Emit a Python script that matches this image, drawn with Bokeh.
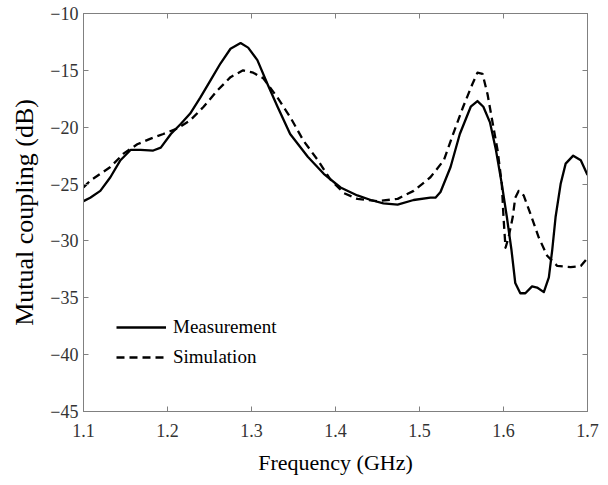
from bokeh.plotting import figure
from bokeh.models import LinearAxis, FixedTicker, Legend, LegendItem, Range1d, CustomJSTickFormatter
from bokeh.embed import file_html
from bokeh.resources import INLINE

# ---- data ----
freq_meas = [1.100, 1.108, 1.120, 1.132, 1.144, 1.156, 1.168, 1.183, 1.192, 1.204,
             1.216, 1.227, 1.239, 1.251, 1.263, 1.275, 1.287, 1.296, 1.307, 1.319,
             1.331, 1.346, 1.367, 1.386, 1.406, 1.426, 1.442, 1.457, 1.474, 1.493,
             1.513, 1.519, 1.525, 1.537, 1.548, 1.561, 1.569, 1.576, 1.584, 1.591,
             1.598, 1.604, 1.6095, 1.614, 1.620, 1.626, 1.634, 1.640, 1.648, 1.654,
             1.658, 1.662, 1.668, 1.674, 1.683, 1.692, 1.700]
meas_db = [-26.5, -26.2, -25.6, -24.4, -22.9, -22.0, -22.0, -22.05, -21.8, -20.6,
           -19.7, -18.8, -17.4, -15.9, -14.4, -13.1, -12.6, -13.0, -14.1, -16.2,
           -18.2, -20.6, -22.6, -24.1, -25.3, -26.0, -26.4, -26.7, -26.8, -26.4,
           -26.2, -26.2, -25.7, -23.5, -20.6, -18.2, -17.7, -18.2, -19.6, -22.0,
           -25.0, -27.9, -30.8, -33.7, -34.6, -34.6, -34.0, -34.1, -34.5, -33.2,
           -30.8, -27.9, -25.0, -23.2, -22.5, -22.9, -24.2]

freq_sim = [1.100, 1.108, 1.120, 1.132, 1.148, 1.164, 1.180, 1.195, 1.212, 1.227,
            1.243, 1.259, 1.275, 1.290, 1.302, 1.314, 1.331, 1.346, 1.362, 1.379,
            1.394, 1.410, 1.426, 1.450, 1.474, 1.493, 1.513, 1.529, 1.540, 1.552,
            1.563, 1.569, 1.575, 1.581, 1.588, 1.593, 1.598, 1.600, 1.6024, 1.606,
            1.611, 1.614, 1.618, 1.624, 1.632, 1.642, 1.652, 1.664, 1.680, 1.692,
            1.700]
sim_db = [-25.3, -24.7, -24.1, -23.5, -22.3, -21.5, -21.0, -20.6, -20.1, -19.4,
          -18.2, -16.8, -15.6, -15.0, -15.2, -15.7, -17.4, -19.1, -21.2, -22.9,
          -24.6, -25.8, -26.3, -26.5, -26.3, -25.6, -24.4, -22.9, -20.6, -18.2,
          -16.2, -15.2, -15.3, -17.1, -20.0, -22.05, -25.0, -27.9, -30.6, -29.7,
          -27.9, -26.2, -25.6, -26.0, -27.6, -29.7, -31.3, -32.2, -32.3, -32.2,
          -31.5]

x_ticks = [1.1, 1.2, 1.3, 1.4, 1.5, 1.6, 1.7]
y_ticks = [-45, -40, -35, -30, -25, -20, -15, -10]

FONT = '"Liberation Serif"'
AXIS_COLOR = "#808080"

p = figure(width=600, height=477, output_backend="svg", toolbar_location=None,
           x_range=Range1d(1.1, 1.7), y_range=Range1d(-45, -10),
           min_border_left=83, min_border_top=13, min_border_right=13,
           min_border_bottom=66)
p.xgrid.visible = False
p.ygrid.visible = False
p.outline_line_color = AXIS_COLOR
p.background_fill_color = "white"
p.border_fill_color = "white"


def style_axis(ax, ticks):
    ax.ticker = FixedTicker(ticks=ticks)
    ax.axis_line_color = AXIS_COLOR
    ax.major_tick_line_color = AXIS_COLOR
    ax.major_tick_in = 5
    ax.major_tick_out = 0
    ax.minor_tick_line_color = None
    ax.major_label_text_font = FONT
    ax.major_label_text_font_size = "18px"
    ax.major_label_text_color = "#333333"
    ax.axis_label_text_font = FONT
    ax.axis_label_text_font_style = "normal"
    ax.axis_label_text_color = "black"


style_axis(p.xaxis[0], x_ticks)
style_axis(p.yaxis[0], y_ticks)
p.xaxis[0].axis_label = "Frequency (GHz)"
p.yaxis[0].axis_label = "Mutual coupling (dB)"
p.xaxis[0].axis_label_text_font_size = "22px"
p.yaxis[0].axis_label_text_font_size = "26px"
p.xaxis[0].major_label_standoff = 12
p.xaxis[0].axis_label_standoff = 10
p.yaxis[0].major_label_standoff = 5
p.yaxis[0].axis_label_standoff = 8

top_ax = LinearAxis(formatter=CustomJSTickFormatter(code="return ''"))
style_axis(top_ax, x_ticks)
top_ax.major_label_standoff = 0
p.add_layout(top_ax, "above")
right_ax = LinearAxis(formatter=CustomJSTickFormatter(code="return ''"))
style_axis(right_ax, y_ticks)
right_ax.major_label_standoff = 0
p.add_layout(right_ax, "right")

r_meas = p.line(freq_meas, meas_db, line_color="black", line_width=2.3,
                line_join="round")
r_sim = p.line(freq_sim, sim_db, line_color="black", line_width=2.3,
               line_dash="8 5", line_join="round")

legend = Legend(items=[LegendItem(label="Measurement", renderers=[r_meas]),
                       LegendItem(label="Simulation", renderers=[r_sim])],
                location=(33, 43), padding=0, margin=0, spacing=8,
                glyph_width=50, glyph_height=20, label_height=20,
                label_standoff=7, border_line_color=None,
                background_fill_alpha=0,
                label_text_font=FONT, label_text_font_size="19px",
                label_text_color="black")
p.add_layout(legend, "center")

open("out.html", "w").write(file_html(p, INLINE))
